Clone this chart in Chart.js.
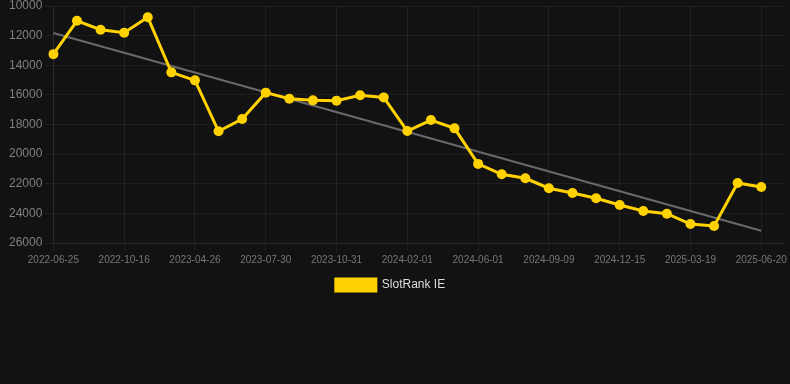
<!DOCTYPE html>
<html>
<head>
<meta charset="utf-8">
<script src="https://cdn.jsdelivr.net/npm/chart.js@4.4.0/dist/chart.umd.min.js"></script>
<style>
  html, body { margin: 0; padding: 0; background: #121212; }
  #wrap { position: relative; width: 790px; height: 384px; }
</style>
</head>
<body>
<div id="wrap"><canvas id="rankChart"></canvas></div>
<script>
  // Tick labels shown on the x axis (every third point)
  var tickLabels = ['2022-06-25', '2022-10-16', '2023-04-26', '2023-07-30', '2023-10-31',
    '2024-02-01', '2024-06-01', '2024-09-09', '2024-12-15', '2025-03-19', '2025-06-20'];

  // Rank values, one per point (31 points)
  var rankValues = [13250, 11000, 11600, 11800, 10760, 14480, 15020, 18460, 17630, 15850,
    16260, 16370, 16390, 16030, 16170, 18440, 17700, 18260, 20660, 21360,
    21630, 22300, 22620, 22980, 23430, 23840, 24020, 24720, 24850, 21950, 22220];

  // Trend line end points
  var trendStart = 11820;
  var trendEnd = 25170;

  var yTicks = [10000, 12000, 14000, 16000, 18000, 20000, 22000, 24000, 26000];

  // categories: only every third point carries a label; one empty slot at the end
  // keeps the plot area running a little past the last point
  var categories = rankValues.map(function (v, i) {
    return i % 3 === 0 ? tickLabels[i / 3] : '';
  });
  categories.push('');

  var trendValues = rankValues.map(function (v, i) {
    if (i === 0) return trendStart;
    if (i === rankValues.length - 1) return trendEnd;
    return null;
  });

  var yellow = '#ffd200';
  var gridColor = 'rgba(255,255,255,0.06)';

  // nudge the legend so it sits where the original one does
  var legendShift = {
    id: 'legendShift',
    afterLayout: function (chart) {
      if (chart.legend) {
        chart.legend.left -= 5;
        chart.legend.right -= 5;
      }
    }
  };

  new Chart(document.getElementById('rankChart'), {
    type: 'line',
    data: {
      labels: categories,
      datasets: [{
        label: 'SlotRank IE',
        data: rankValues,
        borderColor: yellow,
        backgroundColor: yellow,
        borderWidth: 3,
        pointRadius: 5,
        pointBackgroundColor: yellow,
        pointBorderColor: yellow,
        pointBorderWidth: 0,
        tension: 0,
        order: 1
      }, {
        label: 'trend',
        data: trendValues,
        borderColor: '#6a6a6a',
        backgroundColor: '#6a6a6a',
        borderWidth: 2,
        pointRadius: 0,
        spanGaps: true,
        order: 2
      }]
    },
    plugins: [legendShift],
    options: {
      responsive: true,
      maintainAspectRatio: false,
      animation: false,
      layout: { padding: { left: 6, right: 5, top: 0, bottom: 83 } },
      plugins: {
        legend: {
          position: 'bottom',
          labels: {
            color: '#dddddd',
            font: { size: 12 },
            boxWidth: 40,
            boxHeight: 12,
            filter: function (item) { return item.text !== 'trend'; }
          }
        },
        tooltip: { enabled: false }
      },
      scales: {
        x: {
          offset: false,
          grid: { color: gridColor, tickLength: 8 },
          border: { color: gridColor },
          ticks: {
            autoSkip: false,
            maxRotation: 0,
            color: '#777777',
            font: { size: 10 },
            callback: function (v, i) { return categories[i] === '' ? null : categories[i]; }
          }
        },
        y: {
          reverse: true,
          min: yTicks[0],
          max: yTicks[yTicks.length - 1],
          afterBuildTicks: function (scale) {
            scale.ticks = yTicks.map(function (t) { return { value: t }; });
          },
          afterFit: function (scale) {
            scale.paddingTop = 6;
          },
          grid: { color: gridColor, tickLength: 8 },
          border: { color: gridColor },
          ticks: {
            color: '#808080',
            font: { size: 12 },
            callback: function (v) { return String(v); }
          }
        }
      }
    }
  });
</script>
</body>
</html>
